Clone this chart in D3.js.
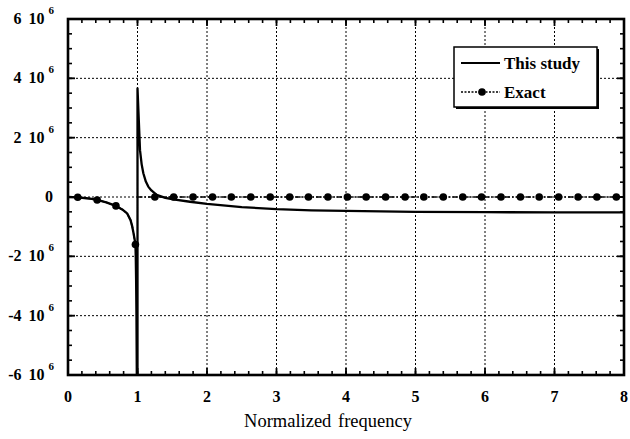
<!DOCTYPE html>
<html><head><meta charset="utf-8">
<script src="https://cdn.jsdelivr.net/npm/d3@7"></script>
<style>
html,body{margin:0;padding:0;background:#fff;}
svg{display:block;}
</style></head>
<body>
<svg id="chart" width="630" height="439"></svg>
<script>
// ---- data (values in units of 10^6) ----
const xTicks = [0, 1, 2, 3, 4, 5, 6, 7, 8];
const yTicks = [-6, -4, -2, 0, 2, 4, 6];
const yMantissa = ["-6", "-4", "-2", "0", "2", "4", "6"];
const xTitle = "Normalized frequency";
const seriesNames = ["This study", "Exact"];

const studyX = [0, 0.14, 0.3, 0.42, 0.55, 0.69, 0.78, 0.85, 0.9, 0.925, 0.945, 0.96, 0.97, 0.975, 0.98, 0.985, 0.99, 1.0, 1.0,
  1.036, 1.06, 1.084, 1.12, 1.155, 1.2, 1.276, 1.4, 1.515, 1.755, 2.0, 2.5, 3.0, 3.5, 4.0, 5.0, 6.0, 7.0, 8.0];
const studyY = [0, -0.01, -0.05, -0.1, -0.18, -0.3, -0.42, -0.55, -0.78, -1.0, -1.25, -1.45, -1.6, -2.0, -2.8, -4.0, -6.0, -6.0, 3.66,
  1.58, 1.1, 0.8, 0.52, 0.35, 0.22, 0.07, -0.03, -0.08, -0.16, -0.23, -0.34, -0.41, -0.45, -0.47, -0.5, -0.51, -0.52, -0.52];

const exactX = [0.14, 0.42, 0.69, 0.97, 1.25, 1.52, 1.80, 2.08, 2.35, 2.63, 2.91, 3.19, 3.46, 3.74, 4.02, 4.29, 4.57, 4.85,
  5.12, 5.40, 5.68, 5.95, 6.23, 6.51, 6.78, 7.06, 7.34, 7.61, 7.89];
const exactY = [-0.01, -0.1, -0.3, -1.6, 0, 0, 0, 0, 0, 0, 0, 0, 0, 0, 0, 0, 0, 0, 0, 0, 0, 0, 0, 0, 0, 0, 0, 0, 0];
// exact curve drawn in two pieces (break at resonance)
const exactLineX = [0, 0.14, 0.3, 0.42, 0.55, 0.69, 0.78, 0.85, 0.9, 0.925, 0.945, 0.96, 0.97, null, 1.0, 8.0];
const exactLineY = [0, -0.01, -0.05, -0.1, -0.18, -0.3, -0.42, -0.55, -0.78, -1.0, -1.25, -1.45, -1.6, null, 0, 0];

// ---- chart ----
const svg = d3.select("#chart");
const L = 68, R = 624, T = 19, B = 375;
const x = d3.scaleLinear().domain([0, 8]).range([L, R]);
const y = d3.scaleLinear().domain([-6, 6]).range([B, T]);

const serif = "'Liberation Serif','Times New Roman',serif";

// grid
const grid = svg.append("g").attr("stroke", "#000").attr("stroke-width", 1).attr("stroke-dasharray", "2,2");
xTicks.slice(1, -1).forEach(v => grid.append("line").attr("x1", x(v)).attr("x2", x(v)).attr("y1", T).attr("y2", B));
yTicks.slice(1, -1).forEach(v => grid.append("line").attr("x1", L).attr("x2", R).attr("y1", y(v)).attr("y2", y(v)));

// clip
svg.append("clipPath").attr("id", "clip").append("rect").attr("x", L).attr("y", T).attr("width", R - L).attr("height", B - T);
const plot = svg.append("g").attr("clip-path", "url(#clip)");

// exact line
const exactPts = exactLineX.map((v, i) => [v, exactLineY[i]]);
plot.append("path")
  .datum(exactPts)
  .attr("d", d3.line().defined(d => d[0] !== null).x(d => x(d[0])).y(d => y(d[1])))
  .attr("fill", "none").attr("stroke", "#000").attr("stroke-width", 1.6).attr("stroke-dasharray", "5,2,1.5,2");
plot.selectAll("circle.ex").data(exactX.map((v, i) => [v, exactY[i]])).enter().append("circle")
  .attr("cx", d => x(d[0])).attr("cy", d => y(d[1])).attr("r", 3.8).attr("fill", "#000");

// study line
plot.append("path")
  .datum(studyX.map((v, i) => [v, studyY[i]]))
  .attr("d", d3.line().x(d => x(d[0])).y(d => y(d[1])))
  .attr("fill", "none").attr("stroke", "#000").attr("stroke-width", 2.3).attr("stroke-linejoin", "round");

// axes with inward ticks on all sides
const ax = svg.append("g");
function ticksX(vals, len, w) {
  vals.forEach(v => {
    ax.append("line").attr("x1", x(v)).attr("x2", x(v)).attr("y1", B).attr("y2", B - len).attr("stroke", "#000").attr("stroke-width", w);
    ax.append("line").attr("x1", x(v)).attr("x2", x(v)).attr("y1", T).attr("y2", T + len).attr("stroke", "#000").attr("stroke-width", w);
  });
}
function ticksY(vals, len, w) {
  vals.forEach(v => {
    ax.append("line").attr("y1", y(v)).attr("y2", y(v)).attr("x1", L).attr("x2", L + len).attr("stroke", "#000").attr("stroke-width", w);
    ax.append("line").attr("y1", y(v)).attr("y2", y(v)).attr("x1", R).attr("x2", R - len).attr("stroke", "#000").attr("stroke-width", w);
  });
}
ticksX(x.ticks(40), 4, 1.6);
ticksX(xTicks, 7, 1.8);
ticksY(y.ticks(24), 4, 1.6);
ticksY(yTicks, 7, 1.8);
ax.append("rect").attr("x", L).attr("y", T).attr("width", R - L).attr("height", B - T)
  .attr("fill", "none").attr("stroke", "#000").attr("stroke-width", 2.6);

// x tick labels
svg.append("g").selectAll("text").data(xTicks).enter().append("text")
  .attr("x", d => x(d)).attr("y", 402).attr("text-anchor", "middle")
  .attr("font-family", serif).attr("font-weight", "bold").attr("font-size", 16).text(d => d);

// y tick labels
yTicks.forEach((v, i) => {
  const t = svg.append("text").attr("y", y(v) + 5).attr("font-family", serif).attr("font-weight", "bold")
    .attr("font-size", 16).attr("text-anchor", "end");
  if (v === 0) {
    t.attr("x", 53).text("0");
  } else {
    t.attr("x", 54);
    t.append("tspan").text(yMantissa[i]);
    t.append("tspan").attr("dx", 7).text("10");
    t.append("tspan").attr("dx", 4).attr("dy", -10).attr("font-size", 11).text("6");
  }
});

// x title
svg.append("text").attr("x", 328).attr("y", 427).attr("text-anchor", "middle")
  .attr("font-family", serif).attr("font-size", 18.5).attr("word-spacing", 2).text(xTitle);

// legend
const lg = svg.append("g");
lg.append("rect").attr("x", 456).attr("y", 49).attr("width", 143).attr("height", 60).attr("fill", "#000");
lg.append("rect").attr("x", 454).attr("y", 47).attr("width", 143).attr("height", 60).attr("fill", "#fff")
  .attr("stroke", "#000").attr("stroke-width", 1.5);
lg.append("line").attr("x1", 461).attr("x2", 500).attr("y1", 63).attr("y2", 63).attr("stroke", "#000").attr("stroke-width", 2);
lg.append("line").attr("x1", 461).attr("x2", 500).attr("y1", 92).attr("y2", 92).attr("stroke", "#000").attr("stroke-width", 1.6).attr("stroke-dasharray", "2,1.5");
lg.append("circle").attr("cx", 482).attr("cy", 92).attr("r", 3.8).attr("fill", "#000");
lg.append("text").attr("x", 504).attr("y", 69).attr("font-family", serif).attr("font-weight", "bold").attr("font-size", 17).text(seriesNames[0]);
lg.append("text").attr("x", 504).attr("y", 98).attr("font-family", serif).attr("font-weight", "bold").attr("font-size", 17).text(seriesNames[1]);
</script>
</body></html>
